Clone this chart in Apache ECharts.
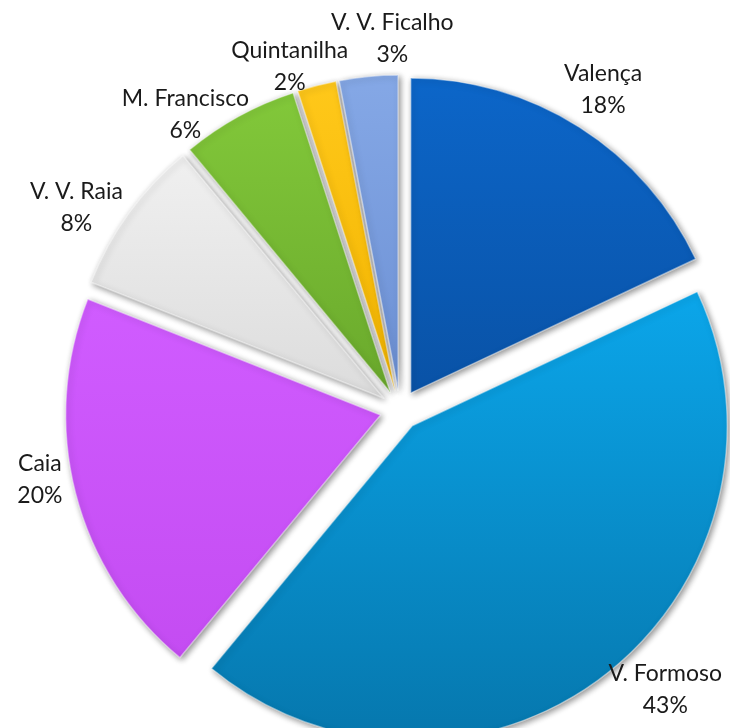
<!DOCTYPE html>
<html>
<head>
<meta charset="utf-8">
<script src="https://cdn.jsdelivr.net/npm/echarts@6/dist/echarts.min.js"></script>
<style>
  html, body { margin: 0; padding: 0; background: #ffffff; }
  #chart { width: 730px; height: 728px; }
</style>
</head>
<body>
<div id="chart"></div>
<script>
// postos fronteiriços, em percentagem
var categories = ['Valença', 'V. Formoso', 'Caia', 'V. V. Raia', 'M. Francisco', 'Quintanilha', 'V. V. Ficalho'];
var values = [18, 43, 20, 8, 6, 2, 3];

// cores de cada fatia (topo, base)
var colors = [
    ['#0c66c9', '#0952a6'],
    ['#0ba6ea', '#0677ad'],
    ['#d05cff', '#c44cf2'],
    ['#f0f0f0', '#dcdcdc'],
    ['#82c83a', '#6aa92c'],
    ['#ffc81a', '#f2b400'],
    ['#85a8e6', '#6c90d4']
];

// pequenos acertos na posição das etiquetas (como o Excel as arruma)
var labelNudge = {
    'V. V. Ficalho': [28, 6],
    'Quintanilha': [-16, 24],
    'M. Francisco': [-32, 37],
    'V. V. Raia': [-17, 20],
    'Caia': [7, -25],
    'V. Formoso': [33, -20]
};

var myChart = echarts.init(document.getElementById('chart'));

var data = [];
for (var i = 0; i < categories.length; i++) {
    data.push({
        name: categories[i],
        value: values[i],
        selected: true,
        itemStyle: {
            color: new echarts.graphic.LinearGradient(0, 0, 0, 1, [
                { offset: 0, color: colors[i][0] },
                { offset: 1, color: colors[i][1] }
            ])
        }
    });
}

var option = {
    animation: false,
    series: [
        {
            type: 'pie',
            center: [400, 410],
            radius: 315,
            startAngle: 90,
            clockwise: true,
            selectedMode: 'multiple',
            selectedOffset: 20,
            avoidLabelOverlap: false,
            data: data,
            itemStyle: {
                borderColor: 'rgba(255,255,255,0.45)',
                borderWidth: 1.5,
                shadowColor: 'rgba(0,0,0,0.45)',
                shadowBlur: 6,
                shadowOffsetX: 2,
                shadowOffsetY: 2
            },
            label: {
                show: true,
                position: 'outside',
                formatter: '{b}\n{d}%',
                fontFamily: 'Lato',
                fontSize: 23,
                lineHeight: 32,
                color: '#1a1a1a',
                distanceToLabelLine: 0
            },
            labelLine: { show: false, length: 44, length2: 0 },
            labelLayout: function (params) {
                var n = labelNudge[categories[params.dataIndex]] || [0, 0];
                return { align: 'center', dx: n[0], dy: n[1] };
            },
            emphasis: { disabled: true }
        }
    ]
};

myChart.setOption(option);
</script>
</body>
</html>
